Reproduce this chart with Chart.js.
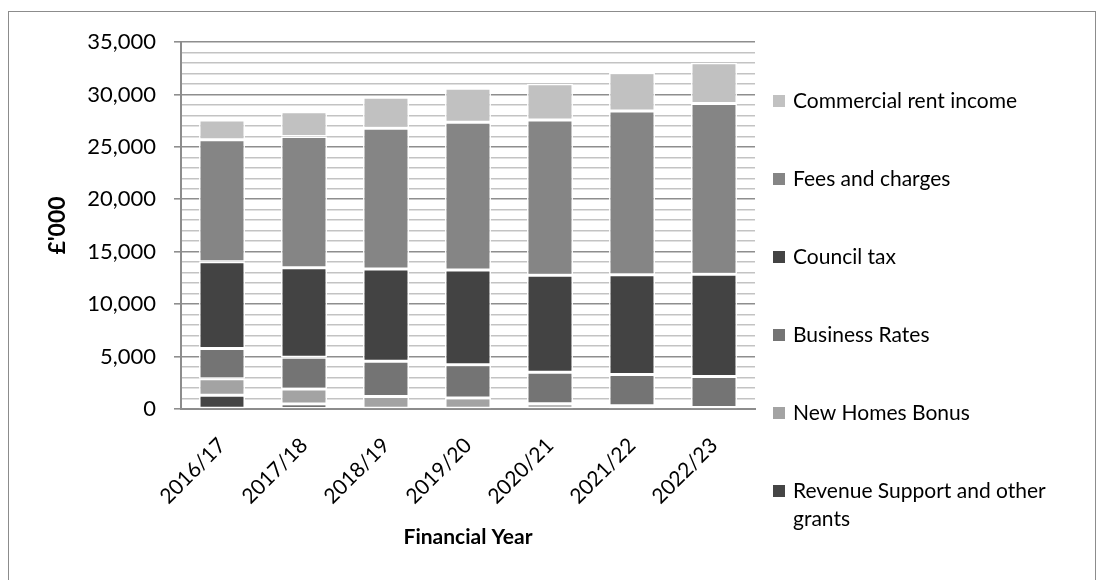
<!DOCTYPE html>
<html>
<head>
<meta charset="utf-8">
<script src="https://cdn.jsdelivr.net/npm/chart.js@4.4.0/dist/chart.umd.min.js"></script>
<style>
  html, body { margin: 0; padding: 0; background: #fff; }
  #frame {
    position: absolute; left: 8px; top: 11px; width: 1088px; height: 600px;
    border: 1.5px solid #8c8c8c; box-sizing: border-box;
  }
  #wrap { position: absolute; left: 0; top: 0; width: 1104px; height: 580px; }
</style>
</head>
<body>
<div id="frame"></div>
<div id="wrap"><canvas id="chart"></canvas></div>
<script>
// Revenue breakdown, £'000
const years = ['2016/17', '2017/18', '2018/19', '2019/20', '2020/21', '2021/22', '2022/23'];

const revenueSupport = [1300, 480, 0, 0, 0, 0, 0];
const newHomesBonus  = [1590, 1430, 1200, 1050, 510, 320, 150];
const businessRates  = [2870, 3020, 3350, 3180, 2990, 2960, 2960];
const councilTax     = [8290, 8540, 8790, 9020, 9260, 9520, 9750];
const feesCharges    = [11620, 12510, 13440, 14100, 14810, 15610, 16280];
const commercialRent = [1900, 2380, 2950, 3240, 3460, 3660, 3880];

const yTicksMajor = [0, 5000, 10000, 15000, 20000, 25000, 30000, 35000];

const COLORS = {
  revenue: '#454545',
  nhb: '#a3a3a3',
  business: '#747474',
  council: '#434343',
  fees: '#858585',
  commercial: '#c1c1c1',
};

const FONT = 'Lato, "Open Sans", sans-serif';

Chart.defaults.font.family = FONT;
Chart.defaults.font.size = 21;
Chart.defaults.color = '#000';

function mkSet(label, data, color) {
  return {
    label,
    data,
    backgroundColor: color,
    borderColor: '#ffffff',
    borderWidth: 1.5,
    borderSkipped: false,
    barPercentage: 0.56,
    categoryPercentage: 1.0,
  };
}

// Legend drawn on the right, Excel style (reversed order, wide spacing)
const sideLegend = {
  id: 'sideLegend',
  afterDraw(chart) {
    const ctx = chart.ctx;
    const sets = chart.data.datasets.slice().reverse();
    const x0 = 773, y0 = 101, step = 78;
    ctx.save();
    ctx.font = '21px ' + FONT;
    ctx.textBaseline = 'middle';
    sets.forEach((ds, i) => {
      const y = y0 + i * step;
      ctx.fillStyle = ds.backgroundColor;
      ctx.fillRect(x0, y - 6, 12, 12);
      ctx.fillStyle = '#000';
      const lines = ds.label === 'Revenue Support and other grants'
        ? ['Revenue Support and other', 'grants'] : [ds.label];
      lines.forEach((ln, j) => ctx.fillText(ln, x0 + 20, y + j * 28));
    });
    ctx.restore();
  },
};

new Chart(document.getElementById('chart'), {
  type: 'bar',
  data: {
    labels: years,
    datasets: [
      mkSet('Revenue Support and other grants', revenueSupport, COLORS.revenue),
      mkSet('New Homes Bonus', newHomesBonus, COLORS.nhb),
      mkSet('Business Rates', businessRates, COLORS.business),
      mkSet('Council tax', councilTax, COLORS.council),
      mkSet('Fees and charges', feesCharges, COLORS.fees),
      mkSet('Commercial rent income', commercialRent, COLORS.commercial),
    ],
  },
  options: {
    responsive: true,
    maintainAspectRatio: false,
    animation: false,
    layout: { padding: { left: 20, right: 349, top: 42, bottom: 15 } },
    plugins: {
      legend: { display: false },
      tooltip: { enabled: false },
    },
    scales: {
      x: {
        stacked: true,
        grid: { display: false },
        border: { display: true, color: '#8c8c8c', width: 2 },
        ticks: { minRotation: 45, maxRotation: 45, padding: 16, font: { size: 21 } },
        title: { display: true, text: 'Financial Year', font: { size: 21, weight: 'bold' }, padding: { top: 4, bottom: 15 } },
        afterFit: (s) => { s.height = 156; },
      },
      y: {
        stacked: true,
        min: 0,
        max: 35000,
        ticks: {
          stepSize: 1000,
          padding: 18,
          autoSkip: false,
          font: { size: 22 },
          callback: (v) => yTicksMajor.includes(v) ? v.toLocaleString('en-GB') : '',
        },
        grid: {
          color: (c) => yTicksMajor.includes(c.tick.value) ? '#8e8e8e' : '#c3c3c3',
          lineWidth: 1.6,
          tickLength: 7,
          tickColor: (c) => yTicksMajor.includes(c.tick.value) ? '#8e8e8e' : 'rgba(0,0,0,0)',
        },
        border: { display: true, color: '#8c8c8c', width: 2 },
        title: { display: true, text: "£'000", font: { size: 23, weight: 'bold' }, padding: { top: 24, bottom: 6 } },
        afterFit: (s) => { s.width = 161; },
      },
    },
  },
  plugins: [sideLegend],
});
</script>
</body>
</html>
